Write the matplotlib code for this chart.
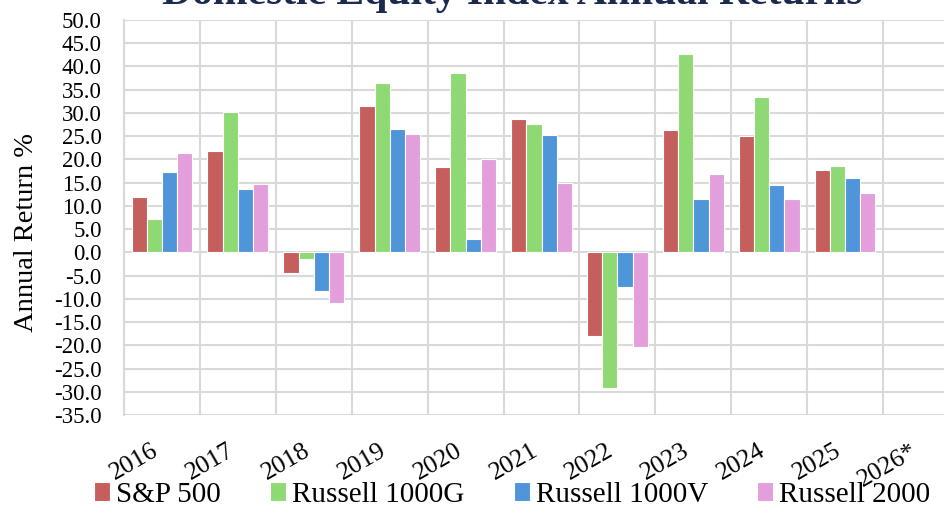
import numpy as np
import matplotlib
matplotlib.use('Agg')
import matplotlib.pyplot as plt
from matplotlib.ticker import MultipleLocator, FixedLocator

plt.rcParams['font.family'] = ['Liberation Serif', 'DejaVu Serif']

years = ['2016', '2017', '2018', '2019', '2020', '2021', '2022', '2023', '2024', '2025', '2026*']
sp500 = [11.96, 21.83, -4.38, 31.49, 18.40, 28.71, -18.11, 26.29, 25.02, 17.8, np.nan]
r1000g = [7.08, 30.21, -1.51, 36.39, 38.49, 27.60, -29.14, 42.68, 33.36, 18.5, np.nan]
r1000v = [17.34, 13.66, -8.27, 26.54, 2.80, 25.16, -7.54, 11.46, 14.37, 15.9, np.nan]
r2000 = [21.31, 14.65, -11.01, 25.52, 19.96, 14.82, -20.44, 16.93, 11.54, 12.8, np.nan]

series = [sp500, r1000g, r1000v, r2000]
names = ['S&P 500', 'Russell 1000G', 'Russell 1000V', 'Russell 2000']
colors = ['#C55F5D', '#8ED973', '#4E95D9', '#E39EDC']

fig = plt.figure(figsize=(9.45, 5.07), dpi=100)
# plot area runs past the right edge, like the cropped original
ax = fig.add_axes([124 / 945, 1 - 415 / 507, (959 - 124) / 945, (415 - 19.8) / 507])

x = np.arange(len(years))
w = 0.2
for i, (vals, name, c) in enumerate(zip(series, names, colors)):
    ax.bar(x + (i - 1.5) * w, vals, width=w, color=c, edgecolor='white',
           linewidth=0.8, label=name, zorder=3)

ax.set_xlim(-0.5, len(years) - 0.5)
ax.set_ylim(-35, 50)
ax.yaxis.set_major_locator(MultipleLocator(5))
ax.yaxis.set_major_formatter(plt.FuncFormatter(lambda v, p: f'{v:.1f}'))
ax.set_xticks(x)
ax.set_xticklabels(years, rotation=30, ha='right', va='top')
ax.xaxis.set_minor_locator(FixedLocator(np.arange(-0.5, len(years), 1)))

ax.tick_params(axis='y', length=0, pad=16, labelsize=16.5)
ax.tick_params(axis='x', which='both', length=0, pad=18, labelsize=18.5)
ax.grid(axis='y', which='major', color='#D9D9D9', linewidth=1.5, zorder=0)
ax.grid(axis='x', which='minor', color='#D9D9D9', linewidth=1.5, zorder=0)
ax.set_axisbelow(True)
for s in ax.spines.values():
    s.set_visible(False)
ax.spines['left'].set_visible(True)
ax.spines['left'].set_color('#D9D9D9')
ax.spines['left'].set_linewidth(1.5)

fig.text(27 / 945, 1 - 232 / 507, 'Annual Return %', rotation=90,
         ha='center', va='center', fontsize=20.5)
fig.text(512 / 945, 1 - 4 / 507, 'Domestic Equity Index Annual Returns',
         ha='center', va='baseline', fontsize=30, fontweight='bold', color='#1B2A4E')

fig.legend(loc='center', bbox_to_anchor=(512 / 945, 1 - 495 / 507), ncol=4,
           frameon=False, fontsize=21, handlelength=0.55, handleheight=0.6,
           handletextpad=0.2, columnspacing=1.7, borderaxespad=0, borderpad=0)

fig.savefig('out.png', dpi=100)
